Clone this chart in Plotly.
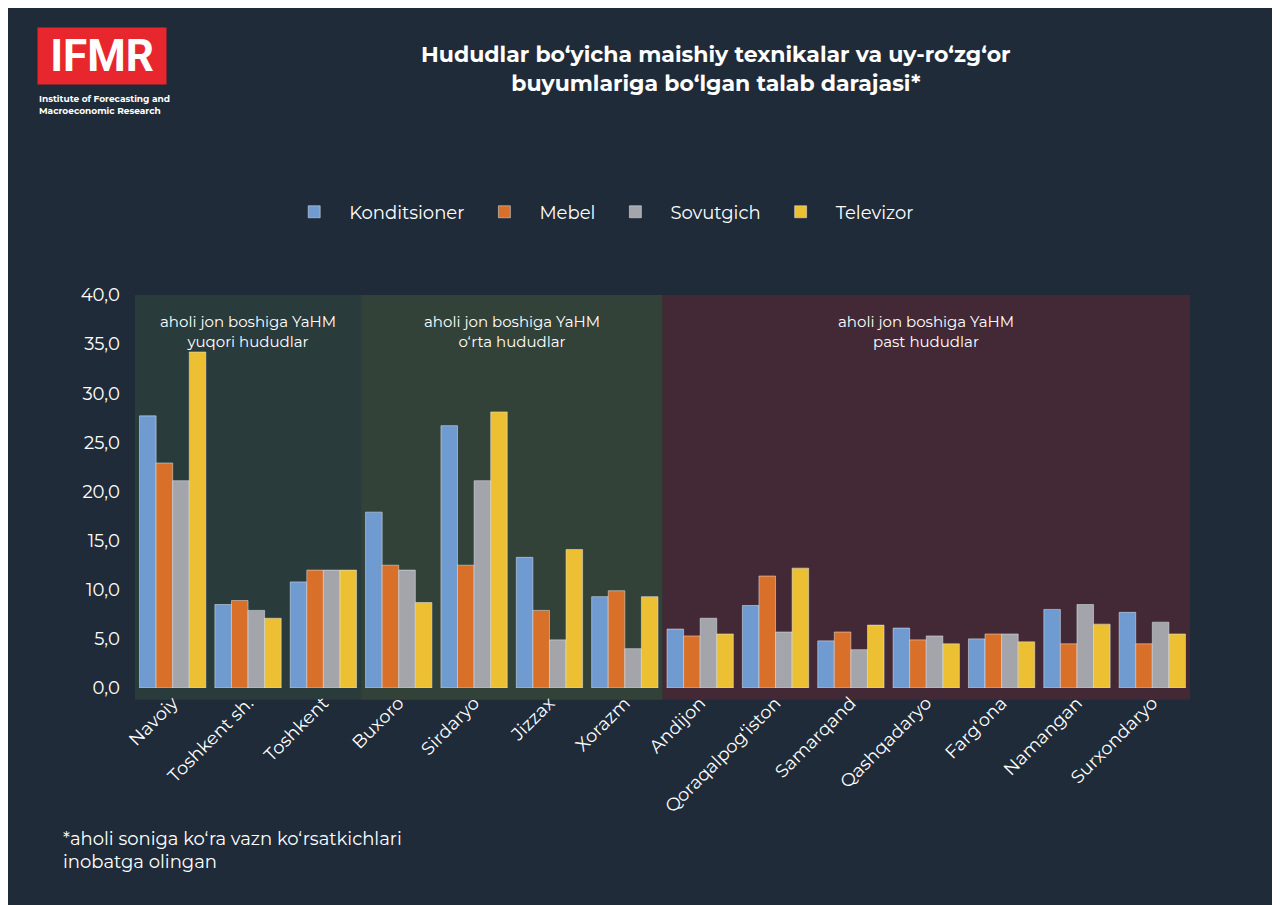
import plotly.graph_objects as go

regions = ["Navoiy", "Toshkent sh.", "Toshkent", "Buxoro", "Sirdaryo", "Jizzax", "Xorazm",
           "Andijon", "Qoraqalpog‘iston", "Samarqand", "Qashqadaryo", "Farg‘ona", "Namangan", "Surxondaryo"]
konditsioner = [27.7, 8.5, 10.8, 17.9, 26.7, 13.3, 9.3, 6.0, 8.4, 4.8, 6.1, 5.0, 8.0, 7.7]
mebel = [22.9, 8.9, 12.0, 12.5, 12.5, 7.9, 9.9, 5.3, 11.4, 5.7, 4.9, 5.5, 4.5, 4.5]
sovutgich = [21.1, 7.9, 12.0, 12.0, 21.1, 4.9, 4.0, 7.1, 5.7, 3.9, 5.3, 5.5, 8.5, 6.7]
televizor = [34.2, 7.1, 12.0, 8.7, 28.1, 14.1, 9.3, 5.5, 12.2, 6.4, 4.5, 4.7, 6.5, 5.5]
group_labels = ["aholi jon boshiga YaHM<br>yuqori hududlar",
                "aholi jon boshiga YaHM<br>o‘rta hududlar",
                "aholi jon boshiga YaHM<br>past hududlar"]
group_spans = [(-0.5, 2.5), (2.5, 6.5), (6.5, 13.5)]
group_fills = ["rgba(70,95,70,0.3)", "rgba(95,120,60,0.3)", "rgba(110,40,50,0.45)"]

series = [("Konditsioner", konditsioner, "#6f9bd1"), ("Mebel", mebel, "#d8702a"),
          ("Sovutgich", sovutgich, "#a3a5aa"), ("Televizor", televizor, "#ecc032")]

fig = go.Figure()
for name, vals, col in series:
    fig.add_trace(go.Bar(x=list(range(len(regions))), y=vals, name=name, marker_color=col))

for (x0, x1), fill, lab in zip(group_spans, group_fills, group_labels):
    fig.add_shape(type="rect", xref="x", yref="paper", x0=x0, x1=x1, y0=-0.03, y1=1.0,
                  fillcolor=fill, line_width=0, layer="below")
    fig.add_annotation(x=(x0 + x1) / 2, y=38.5, xref="x", yref="y", text=lab, showarrow=False,
                       font=dict(color="white", size=15), yanchor="top")

# logo
fig.add_annotation(xref="paper", yref="paper", x=-0.093, y=1.682, xanchor="left", yanchor="top",
                   text="<b>IFMR</b>", showarrow=False, bgcolor="#e8262d", width=126, height=54,
                   font=dict(color="white", size=44, family="Roboto"))
fig.add_annotation(xref="paper", yref="paper", x=-0.093, y=1.52, xanchor="left", yanchor="top", align="left",
                   text="<b>Institute of Forecasting and<br>Macroeconomic Research</b>", showarrow=False,
                   font=dict(color="white", size=9))
fig.add_annotation(xref="paper", yref="paper", x=-0.07, y=-0.35, xanchor="left", yanchor="top", align="left",
                   text="*aholi soniga ko‘ra vazn ko‘rsatkichlari<br>inobatga olingan", showarrow=False,
                   font=dict(color="white", size=18))

fig.update_layout(
    width=1280, height=905,
    paper_bgcolor="#1f2b38", plot_bgcolor="#1f2b38",
    font=dict(family="Montserrat, Open Sans, sans-serif", color="white"),
    title=dict(text="<b>Hududlar bo‘yicha maishiy texnikalar va uy-ro‘zg‘or<br>buyumlariga bo‘lgan talab darajasi*</b>",
               x=0.553, xanchor="center", y=0.94, font=dict(size=22)),
    margin=dict(l=127, r=98, t=287, b=225),
    bargap=0.12, bargroupgap=0.0,
    legend=dict(orientation="h", x=0.44, xanchor="center", y=1.211, yanchor="middle",
                font=dict(size=18), itemwidth=60, traceorder="normal"),
    xaxis=dict(tickmode="array", tickvals=list(range(len(regions))), ticktext=regions,
               tickangle=-45, tickfont=dict(size=18), showgrid=False, range=[-0.5, 13.5]),
    yaxis=dict(range=[0, 40], dtick=5, tickformat=".1f", showgrid=False, zeroline=False,
               tickfont=dict(size=18), ticksuffix="   "),
    separators=",.",
)
fig.write_html("out.html")
